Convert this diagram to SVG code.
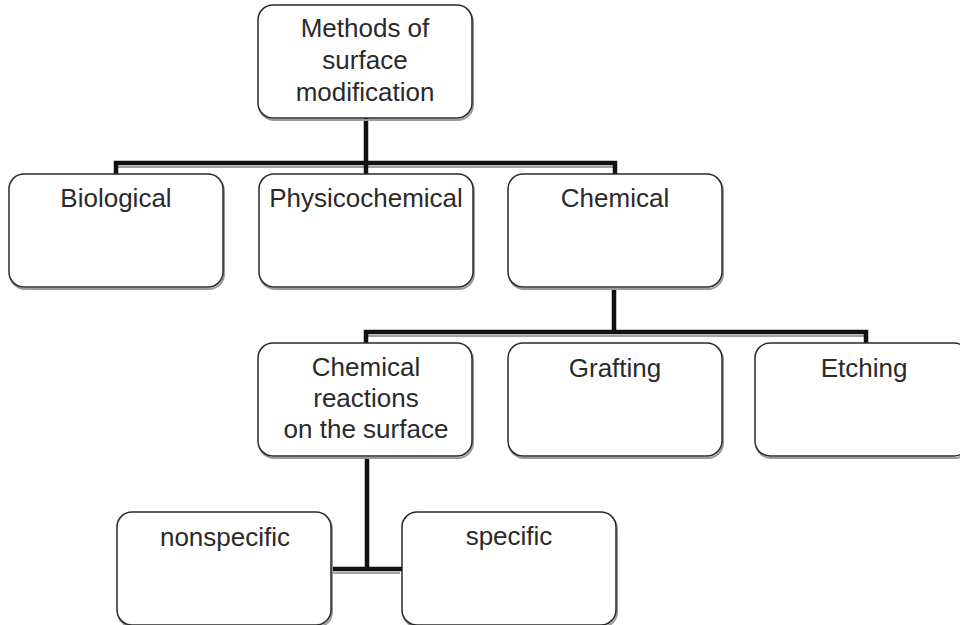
<svg xmlns="http://www.w3.org/2000/svg" width="960" height="625" viewBox="0 0 960 625">
<style>
.box{fill:#fff;stroke:#2a2a2a;stroke-width:1.5}
.shadow{fill:none;stroke:#9a9a9a;stroke-width:2}
.lbl{font-family:"Liberation Sans",Arial,sans-serif;font-size:26px;fill:#2a2a2a;text-anchor:middle}
.conn{fill:none;stroke:#111;stroke-width:4.5;stroke-linejoin:miter;stroke-linecap:butt}
.connsh{fill:none;stroke:#a0a0a0;stroke-width:2}
</style>
<rect width="960" height="625" fill="#fff"/>
<defs>
<rect id="b" x="0" y="0" width="214" height="113" rx="15" ry="15"/>
</defs>
<g id="connectors">
<path class="connsh" d="M118 167H613M368 336H864M333 573H400"/>
<path class="conn" d="M366 118V174M116 174V163H615V174"/>
<path class="conn" d="M614 288V332M366 343V332H866V343"/>
<path class="conn" d="M367 457V569M331 569H402"/>
</g>
<g id="n-methods">
<use href="#b" x="259" y="7" class="shadow"/>
<use href="#b" x="258" y="5" class="box"/>
<text class="lbl" x="365" y="37">Methods of</text>
<text class="lbl" x="365" y="69">surface</text>
<text class="lbl" x="365" y="101">modification</text>
</g>
<g id="n-biological">
<use href="#b" x="10" y="176" class="shadow"/>
<use href="#b" x="9" y="174" class="box"/>
<text class="lbl" x="116" y="207">Biological</text>
</g>
<g id="n-physicochemical">
<use href="#b" x="260" y="176" class="shadow"/>
<use href="#b" x="259" y="174" class="box"/>
<text class="lbl" x="366" y="207">Physicochemical</text>
</g>
<g id="n-chemical">
<use href="#b" x="509" y="176" class="shadow"/>
<use href="#b" x="508" y="174" class="box"/>
<text class="lbl" x="615" y="207">Chemical</text>
</g>
<g id="n-reactions">
<use href="#b" x="259" y="345" class="shadow"/>
<use href="#b" x="258" y="343" class="box"/>
<text class="lbl" x="366" y="376">Chemical</text>
<text class="lbl" x="366" y="407">reactions</text>
<text class="lbl" x="366" y="438">on the surface</text>
</g>
<g id="n-grafting">
<use href="#b" x="509" y="345" class="shadow"/>
<use href="#b" x="508" y="343" class="box"/>
<text class="lbl" x="615" y="377">Grafting</text>
</g>
<g id="n-etching">
<use href="#b" x="756" y="345" class="shadow"/>
<use href="#b" x="755" y="343" class="box"/>
<text class="lbl" x="864" y="377">Etching</text>
</g>
<g id="n-nonspecific">
<use href="#b" x="118" y="514" class="shadow"/>
<use href="#b" x="117" y="512" class="box"/>
<text class="lbl" x="225" y="546">nonspecific</text>
</g>
<g id="n-specific">
<use href="#b" x="403" y="514" class="shadow"/>
<use href="#b" x="402" y="512" class="box"/>
<text class="lbl" x="509" y="545">specific</text>
</g>
</svg>
